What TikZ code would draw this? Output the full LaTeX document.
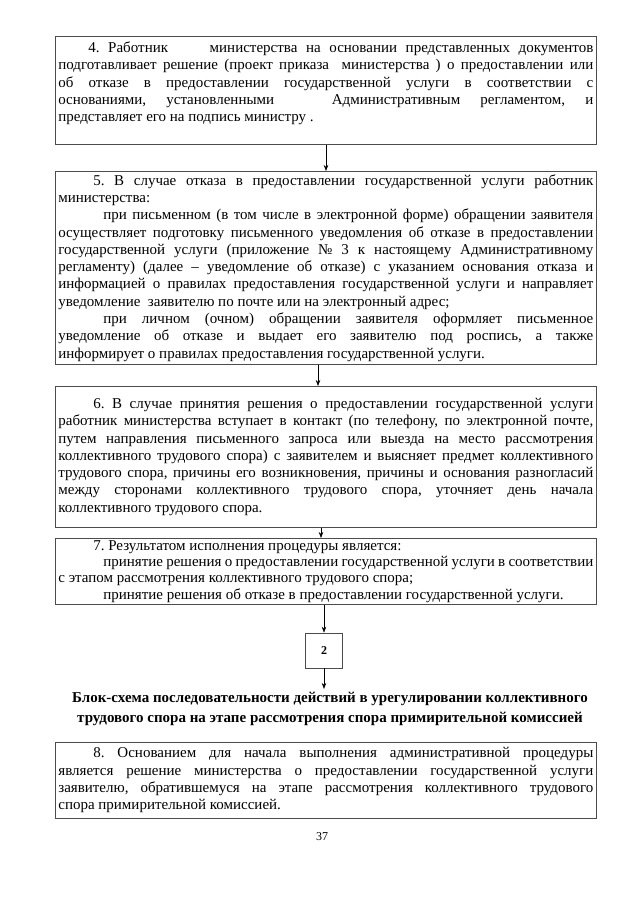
\documentclass[tikz,border=0pt]{standalone}
\usepackage{fontspec}
\setmainfont{Liberation Serif}
\usetikzlibrary{arrows.meta}
\tikzset{
  blk/.style={draw=black!70, line width=0.7pt, anchor=north west, text width=535pt,
    inner xsep=3pt, inner ysep=2pt, align=justify,
    font=\fontsize{15}{17.3}\selectfont\frenchspacing},
  arr/.style={draw=black, line width=0.6pt, -{Stealth[length=6pt,width=4.5pt]}},
  numbox/.style={draw=black!70, line width=0.7pt, minimum width=37pt, minimum height=35pt,
    inner sep=0pt, font=\fontsize{12}{14}\selectfont\bfseries},
  titletext/.style={align=center, font=\fontsize{15}{19.5}\selectfont\bfseries},
}
\newcommand{\pin}[1]{\hspace*{#1}}
\begin{document}
\frenchspacing
\begin{tikzpicture}[x=1pt,y=-1pt]
\fill[white] (0,0) rectangle (640,905);
\useasboundingbox (0,0) rectangle (640,905);

\node[blk, minimum height=108pt] (b4) at (55,36) {%
\pin{30pt}4. Работник\hspace{2.2em} министерства на основании представленных документов\linebreak
подготавливает решение (проект приказа\ \ министерства ) о предоставлении или\linebreak
об отказе в предоставлении государственной услуги в соответствии с\linebreak
основаниями, установленными\hspace{2.5em} Административным регламентом, и\linebreak
представляет его на подпись министру .\par\mbox{}};

\node[blk, minimum height=193pt] (b5) at (55,171) {%
\pin{35pt}5. В случае отказа в предоставлении государственной услуги работник\linebreak
министерства:\par
\pin{45pt}при письменном (в том числе в электронной форме) обращении заявителя\linebreak
осуществляет подготовку письменного уведомления об отказе в предоставлении\linebreak
государственной услуги (приложение № 3 к настоящему Административному\linebreak
регламенту) (далее – уведомление об отказе) с указанием основания отказа и\linebreak
информацией о правилах предоставления государственной услуги и направляет\linebreak
уведомление\ \ заявителю по почте или на электронный адрес;\par
\pin{45pt}при личном (очном) обращении заявителя оформляет письменное\linebreak
уведомление об отказе и выдает его заявителю под роспись, а также\linebreak
информирует о правилах предоставления государственной услуги.};

\node[blk, minimum height=141pt] (b6) at (55,386) {%
\pin{35pt}6. В случае принятия решения о предоставлении государственной услуги\linebreak
работник министерства вступает в контакт (по телефону, по электронной почте,\linebreak
путем направления письменного запроса или выезда на место рассмотрения\linebreak
коллективного трудового спора) с заявителем и выясняет предмет коллективного\linebreak
трудового спора, причины его возникновения, причины и основания разногласий\linebreak
между сторонами коллективного трудового спора, уточняет день начала\linebreak
коллективного трудового спора.};

\node[blk, minimum height=66pt, font=\fontsize{15}{16.3}\selectfont\frenchspacing] (b7) at (55,538) {%
\pin{35pt}7. Результатом исполнения процедуры является:\par
\pin{45pt}принятие решения о предоставлении государственной услуги в соответствии\linebreak
с этапом рассмотрения коллективного трудового спора;\par
\pin{45pt}принятие решения об отказе в предоставлении государственной услуги.};

\node[numbox] (n2) at (324,650.5) {2};

\node[titletext] (title) at (330,709) {Блок-схема последовательности действий в урегулировании коллективного\\
трудового спора на этапе рассмотрения спора примирительной комиссией};

\node[blk, minimum height=76pt] (b8) at (55,742) {%
\pin{35pt}8. Основанием для начала выполнения административной процедуры\linebreak
является решение министерства о предоставлении государственной услуги\linebreak
заявителю, обратившемуся на этапе рассмотрения коллективного трудового\linebreak
спора примирительной комиссией.};

\node[font=\fontsize{12}{14}\selectfont] (pg) at (322,837) {37};

\coordinate (c1) at (326,0);
\coordinate (c2) at (318,0);
\coordinate (c3) at (321,0);
\coordinate (c4) at (324,0);
\draw[arr] (b4.south -| c1) -- (b5.north -| c1);
\draw[arr] (b5.south -| c2) -- (b6.north -| c2);
\draw[arr] (b6.south -| c3) -- (b7.north -| c3);
\draw[arr] (b7.south -| c4) -- (n2.north);
\draw[arr] (n2.south) -- (title.north -| n2.south);
\end{tikzpicture}
\end{document}
